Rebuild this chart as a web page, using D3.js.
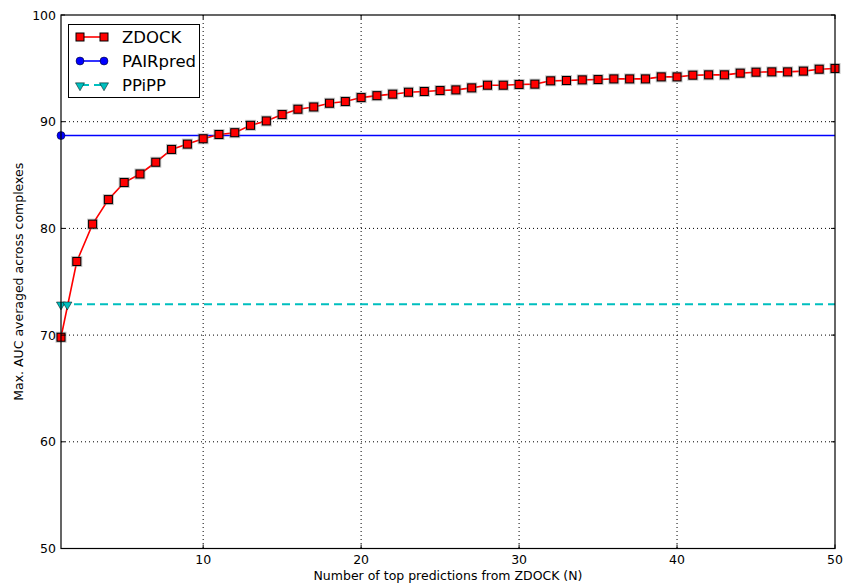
<!DOCTYPE html>
<html>
<head>
<meta charset="utf-8">
<script src="https://cdn.jsdelivr.net/npm/d3@7"></script>
<style>
  html, body { margin: 0; padding: 0; background: #fff; }
  svg { display: block; font-family: "DejaVu Sans", sans-serif; }
</style>
</head>
<body>
<svg id="chart" width="848" height="587"></svg>
<script>
// ---- data ----
const nValues = [1,2,3,4,5,6,7,8,9,10,11,12,13,14,15,16,17,18,19,20,21,22,23,24,25,26,27,28,29,30,31,32,33,34,35,36,37,38,39,40,41,42,43,44,45,46,47,48,49,50];
const zdock = [69.8,76.9,80.4,82.7,84.3,85.1,86.2,87.4,87.9,88.4,88.8,88.97,89.66,90.07,90.67,91.17,91.38,91.73,91.89,92.26,92.44,92.58,92.76,92.83,92.92,92.98,93.17,93.42,93.42,93.49,93.52,93.83,93.86,93.92,93.95,94.01,94.01,94.01,94.2,94.2,94.36,94.39,94.39,94.55,94.64,94.67,94.67,94.74,94.92,94.99];
const pairpred = 88.7;
const pairpredMarkerX = [1];
const ppipp = 72.9;
const ppippMarkerX = [1, 1.4];
const xTicks = [10,20,30,40,50];
const yTicks = [50,60,70,80,90,100];
const xDomain = [1, 50];
const yDomain = [50, 100];
const seriesNames = ["ZDOCK", "PAIRpred", "PPiPP"];
const xTitle = "Number of top predictions from ZDOCK (N)";
const yTitle = "Max. AUC averaged across complexes";

// ---- layout ----
const L = 61, R = 835, T = 15, B = 548.5;
const svg = d3.select("#chart");
const x = d3.scaleLinear().domain(xDomain).range([L, R]);
const y = d3.scaleLinear().domain(yDomain).range([B, T]);

const colors = { ZDOCK: "#ff0000", PAIRpred: "#0000ff", PPiPP: "#00bfbf" };

svg.append("defs").append("clipPath").attr("id", "clip")
  .append("rect").attr("x", L).attr("y", T).attr("width", R - L).attr("height", B - T);

// grid
const grid = svg.append("g");
grid.selectAll("line.gx").data(xTicks.filter(d => d > xDomain[0] && d < xDomain[1])).join("line")
  .attr("x1", d => x(d)).attr("x2", d => x(d)).attr("y1", T).attr("y2", B)
  .attr("stroke", "#000").attr("stroke-width", 1).attr("stroke-dasharray", "1,3");
grid.selectAll("line.gy").data(yTicks.filter(d => d > yDomain[0] && d < yDomain[1])).join("line")
  .attr("x1", L).attr("x2", R).attr("y1", d => y(d)).attr("y2", d => y(d))
  .attr("stroke", "#000").attr("stroke-width", 1).attr("stroke-dasharray", "1,3");

const plot = svg.append("g");

// PAIRpred line
plot.append("line").attr("clip-path", "url(#clip)")
  .attr("x1", x(xDomain[0])).attr("x2", x(xDomain[1]))
  .attr("y1", y(pairpred)).attr("y2", y(pairpred))
  .attr("stroke", colors.PAIRpred).attr("stroke-width", 1.6);

// PPiPP line
plot.append("line").attr("clip-path", "url(#clip)")
  .attr("x1", x(xDomain[0])).attr("x2", x(xDomain[1]))
  .attr("y1", y(ppipp)).attr("y2", y(ppipp))
  .attr("stroke", colors.PPiPP).attr("stroke-width", 2).attr("stroke-dasharray", "8,5");

// ZDOCK line
const zData = nValues.map((n, i) => ({ n, v: zdock[i] }));
plot.append("path").datum(zData).attr("clip-path", "url(#clip)")
  .attr("fill", "none").attr("stroke", colors.ZDOCK).attr("stroke-width", 1.6)
  .attr("d", d3.line().x(d => x(d.n)).y(d => y(d.v)));

// ZDOCK markers (with soft shadow halo)
const ms = 8;
plot.selectAll("rect.halo").data(zData).join("rect")
  .attr("x", d => x(d.n) - ms / 2 - 1.5).attr("y", d => y(d.v) - ms / 2 - 1.5)
  .attr("width", ms + 3).attr("height", ms + 3)
  .attr("fill", "#777").attr("opacity", 0.45);
plot.selectAll("rect.mk").data(zData).join("rect")
  .attr("x", d => x(d.n) - ms / 2).attr("y", d => y(d.v) - ms / 2)
  .attr("width", ms).attr("height", ms)
  .attr("fill", colors.ZDOCK).attr("stroke", "#000").attr("stroke-width", 1);

// PAIRpred markers
plot.selectAll("circle.pp").data(pairpredMarkerX).join("circle")
  .attr("cx", d => x(d)).attr("cy", y(pairpred)).attr("r", 4)
  .attr("fill", colors.PAIRpred).attr("stroke", "#000").attr("stroke-width", 0.5);

// PPiPP markers (down triangles)
const tri = d3.symbol().type(d3.symbolTriangle).size(36);
plot.selectAll("path.tri").data(ppippMarkerX).join("path")
  .attr("d", tri)
  .attr("transform", d => `translate(${x(d)},${y(ppipp) + 0.5}) rotate(180)`)
  .attr("fill", colors.PPiPP).attr("stroke", "#000").attr("stroke-width", 0.5);

// axes frame
svg.append("rect").attr("x", L).attr("y", T).attr("width", R - L).attr("height", B - T)
  .attr("fill", "none").attr("stroke", "#000").attr("stroke-width", 1.2);

// ticks (inside, on all sides)
const tk = svg.append("g").attr("stroke", "#000").attr("stroke-width", 1);
xTicks.forEach(d => {
  tk.append("line").attr("x1", x(d)).attr("x2", x(d)).attr("y1", B).attr("y2", B - 4);
  tk.append("line").attr("x1", x(d)).attr("x2", x(d)).attr("y1", T).attr("y2", T + 4);
});
yTicks.forEach(d => {
  tk.append("line").attr("x1", L).attr("x2", L + 4).attr("y1", y(d)).attr("y2", y(d));
  tk.append("line").attr("x1", R).attr("x2", R - 4).attr("y1", y(d)).attr("y2", y(d));
});

// tick labels
svg.append("g").selectAll("text").data(xTicks).join("text")
  .attr("x", d => x(d)).attr("y", B + 15).attr("text-anchor", "middle")
  .attr("font-size", 12.5).attr("fill", "#000").text(d => d);
svg.append("g").selectAll("text").data(yTicks).join("text")
  .attr("x", L - 5).attr("y", d => y(d) + 4.5).attr("text-anchor", "end")
  .attr("font-size", 12.5).attr("fill", "#000").text(d => d);

// axis titles
svg.append("text").attr("x", (L + R) / 2).attr("y", 580).attr("text-anchor", "middle")
  .attr("font-size", 12.5).attr("fill", "#000").text(xTitle);
svg.append("text").attr("transform", `translate(23,${(T + B) / 2}) rotate(-90)`)
  .attr("text-anchor", "middle").attr("font-size", 12.5).attr("fill", "#000").text(yTitle);

// legend
const lg = svg.append("g");
lg.append("rect").attr("x", 68.5).attr("y", 24.5).attr("width", 131).attr("height", 73)
  .attr("fill", "#fff").attr("stroke", "#000").attr("stroke-width", 1);
const rowY = [37, 61, 85];
seriesNames.forEach((name, i) => {
  const yy = rowY[i];
  const g = lg.append("g");
  const ln = g.append("line").attr("x1", 80).attr("x2", 104).attr("y1", yy).attr("y2", yy)
    .attr("stroke", colors[name]).attr("stroke-width", name === "PPiPP" ? 2 : 1.6);
  if (name === "PPiPP") ln.attr("stroke-dasharray", "8,5").attr("stroke-dashoffset", -1);
  [80, 104].forEach(px => {
    if (name === "ZDOCK") {
      g.append("rect").attr("x", px - ms / 2).attr("y", yy - ms / 2).attr("width", ms).attr("height", ms)
        .attr("fill", colors.ZDOCK).attr("stroke", "#000").attr("stroke-width", 1);
    } else if (name === "PAIRpred") {
      g.append("circle").attr("cx", px).attr("cy", yy).attr("r", 4)
        .attr("fill", colors.PAIRpred).attr("stroke", "#000").attr("stroke-width", 0.5);
    } else {
      g.append("path").attr("d", tri).attr("transform", `translate(${px},${yy + 0.5}) rotate(180)`)
        .attr("fill", colors.PPiPP).attr("stroke", "#000").attr("stroke-width", 0.5);
    }
  });
  g.append("text").attr("x", 122).attr("y", yy + 6).attr("font-size", 16.5).attr("fill", "#000").text(name);
});
</script>
</body>
</html>
